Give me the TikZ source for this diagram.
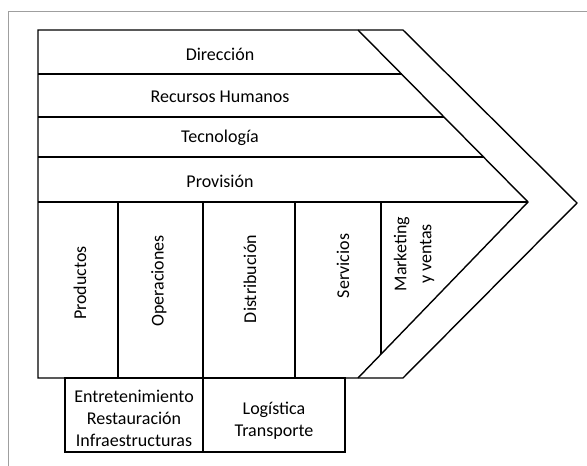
\documentclass[tikz,border=0pt]{standalone}
\usepackage{fontspec}
\setmainfont{Carlito}
\begin{document}
\begin{tikzpicture}[x=1pt,y=-1pt,
    chain/.style={line width=1.4pt, line join=miter},
    lbl/.style={font=\fontsize{18}{22}\selectfont, align=center, inner sep=0pt}]
    \useasboundingbox (0,0) rectangle (587,466);
    % outer frame
    \draw[gray!75, line width=1pt] (8,466) -- (8,11) -- (587,11);

    % chevron outline and inner diagonal
    \draw[chain] (38,30) -- (403,30) -- (577,203) -- (403,378) -- (38,378) -- cycle;
    \draw[chain] (358,30) -- (528,202) -- (358,378);

    % support activities (rows)
    \draw[chain] (38,74) -- (401.5,74);
    \draw[chain] (38,117) -- (444,117);
    \draw[chain] (38,157) -- (483.5,157);
    \draw[chain] (38,202) -- (528,202);

    % primary activities (columns)
    \draw[chain] (118,202) -- (118,378);
    \draw[chain] (203,202) -- (203,378);
    \draw[chain] (295,202) -- (295,378);
    \draw[chain] (381,202) -- (381,354);

    % extra boxes below
    \draw[chain] (65,378) rectangle (203,452);
    \draw[chain] (203,378) rectangle (345,452);

    \node[lbl] (dir) at (220,54) {Dirección};
    \node[lbl] (rrhh) at (220,97) {Recursos Humanos};
    \node[lbl] (tec) at (220,138) {Tecnología};
    \node[lbl] (prov) at (220,181) {Provisión};

    \node[lbl, rotate=90] (prod) at (80,283) {Productos};
    \node[lbl, rotate=90] (oper) at (159,281) {Operaciones};
    \node[lbl, rotate=90] (dist) at (250,279) {Distribución};
    \node[lbl, rotate=90] (serv) at (343,266) {Servicios};
    \node[lbl, rotate=90, font=\fontsize{18}{25}\selectfont] (mkt) at (414,254) {Marketing\\y ventas};

    \node[lbl] (infra) at (134,418) {Entretenimiento\\Restauración\\Infraestructuras};
    \node[lbl] (logi) at (274,421) {Logística\\Transporte};
\end{tikzpicture}
\end{document}
